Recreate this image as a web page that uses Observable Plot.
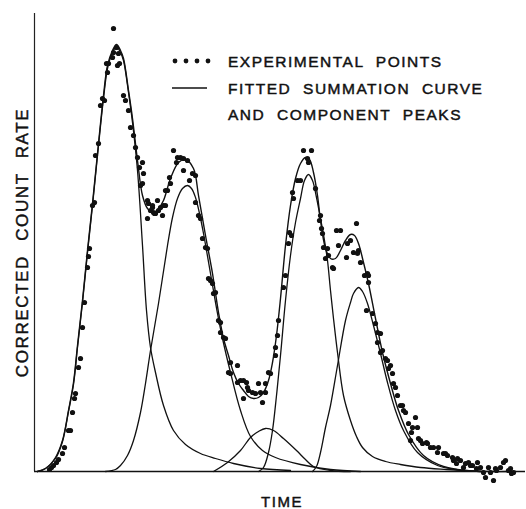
<!DOCTYPE html>
<html><head><meta charset="utf-8">
<script src="https://cdn.jsdelivr.net/npm/d3@7"></script>
<script src="https://cdn.jsdelivr.net/npm/@observablehq/plot@0.6"></script>
<style>
body{margin:0;background:#fff}
#wrap{position:relative;width:526px;height:509px}
#legend{position:absolute;left:0;top:0;pointer-events:none}
#legend text{font-family:"Liberation Sans",Arial,sans-serif;font-size:15.5px;letter-spacing:1.5px;word-spacing:6px;fill:#111;stroke:#111;stroke-width:0.45px}
</style>
</head><body><div id="wrap"></div>
<script>
// time (arbitrary units), corrected count rate (arbitrary units)
const experimental = [
[15,2],[17,4],[19,6],[22,9],[24,12],[28,18],[30,24],[34,41],[36,41],[38,59],[40,73],[41,78],[44,104],[46,113],[48,144],[50,169],[53,204],[54,215],[55,223],[58,266],[60,269],[61,316],[64,328],[66,366],[68,373],[70,371],[72,408],[73,399],[74,408],[78,414],[79,419],[79,443],[82,424],[83,406],[84,418],[85,408],[89,376],[91,371],[94,361],[96,344],[99,336],[101,324],[103,314],[105,304],[106,286],[109,298],[108,309],[108,288],[113,271],[114,268],[116,261],[118,264],[119,259],[121,258],[113,253],[118,266],[120,258],[123,271],[124,261],[126,264],[128,256],[129,266],[131,266],[133,281],[131,281],[135,294],[136,288],[139,321],[142,309],[143,314],[146,314],[149,313],[149,301],[153,311],[155,291],[158,298],[161,296],[161,269],[164,256],[166,253],[168,233],[171,224],[173,223],[174,193],[176,191],[178,188],[179,178],[181,179],[184,151],[186,149],[186,139],[189,134],[191,133],[196,109],[194,99],[203,106],[196,98],[203,89],[206,91],[209,91],[212,89],[213,84],[214,81],[218,79],[209,73],[221,78],[224,88],[226,79],[228,69],[231,79],[234,99],[236,98],[231,88],[241,116],[243,136],[241,124],[244,151],[249,184],[251,196],[254,228],[255,239],[257,236],[258,279],[259,273],[263,291],[266,291],[269,321],[273,313],[274,309],[277,321],[281,283],[285,251],[286,256],[287,243],[288,238],[289,224],[291,213],[293,223],[294,216],[298,204],[299,203],[302,241],[304,226],[306,241],[312,214],[313,228],[316,231],[319,219],[322,248],[323,218],[324,221],[326,209],[330,196],[333,198],[334,196],[332,161],[334,189],[338,158],[341,148],[343,139],[346,138],[343,129],[346,119],[348,121],[351,113],[353,111],[354,103],[356,106],[358,98],[359,88],[361,84],[363,76],[366,66],[368,66],[369,61],[371,59],[374,48],[376,31],[377,39],[378,44],[381,54],[383,44],[384,33],[386,31],[388,28],[392,29],[393,28],[396,24],[399,24],[403,19],[404,24],[409,18],[411,18],[413,16],[418,14],[419,11],[422,8],[423,13],[426,11],[429,4],[431,8],[434,9],[436,6],[438,6],[442,3],[443,9],[446,4],[449,-1],[451,-6],[454,4],[456,-1],[459,-9],[461,3],[462,1],[466,4],[469,9],[471,11],[474,1],[476,3],[477,-2],[479,-1]
];
const summation = [
[3,0],[11,3],[21,14],[28,31],[34,61],[39,89],[43,126],[48,171],[53,221],[58,268],[64,328],[69,376],[73,406],[78,421],[82,427],[86,421],[89,413],[94,381],[98,353],[103,311],[108,276],[113,263],[119,259],[124,263],[129,271],[136,293],[144,309],[151,312],[159,303],[164,276],[171,236],[178,198],[184,159],[189,133],[194,116],[199,99],[204,88],[209,81],[214,75],[219,73],[224,74],[229,79],[234,91],[238,109],[242,136],[246,173],[251,226],[256,266],[261,293],[266,308],[271,314],[275,312],[279,299],[283,276],[286,251],[291,223],[296,213],[301,213],[306,221],[311,231],[316,237],[320,236],[324,228],[329,209],[334,188],[341,153],[348,119],[356,88],[364,61],[374,37],[389,16],[409,5],[431,1],[456,0],[481,0]
];
const peak1 = [[3,0],[11,3],[21,13],[28,30],[34,60],[39,87],[43,124],[48,169],[53,219],[58,266],[64,326],[69,373],[73,403],[78,419],[82,425],[86,419],[89,411],[94,379],[98,349],[103,301],[108,226],[112,161],[116,124],[121,99],[129,66],[139,41],[151,27],[166,18],[181,13],[199,8],[226,3],[256,1]];
const peak2 = [[71,0],[81,2],[86,6],[93,16],[99,31],[106,59],[111,88],[116,121],[124,168],[133,226],[138,254],[143,273],[148,283],[153,286],[157,283],[161,274],[165,258],[169,238],[176,198],[183,158],[188,133],[196,99],[206,61],[216,35],[228,21],[241,14],[266,7],[296,2],[326,0]];
const peak3 = [[179,0],[193,9],[206,21],[216,34],[224,40],[231,43],[239,41],[249,33],[262,21],[271,12],[279,5],[296,1],[316,0]];
const peak4 = [[224,0],[229,4],[234,19],[238,41],[242,76],[246,116],[251,171],[256,216],[261,249],[266,273],[270,291],[274,297],[278,291],[282,274],[286,253],[290,231],[293,211],[296,181],[299,153],[303,119],[309,76],[316,51],[322,35],[328,24],[338,15],[351,10],[366,7],[386,4],[412,2],[446,0]];
const peak5 = [[278,0],[282,5],[286,19],[291,44],[296,66],[303,106],[311,151],[316,169],[319,178],[324,184],[328,180],[333,168],[339,146],[346,118],[353,89],[361,61],[369,41],[383,19],[403,6],[421,2],[446,0]];
const yLabel = "CORRECTED COUNT RATE";
const xLabel = "TIME";
const legendLabels = ["EXPERIMENTAL POINTS", "FITTED SUMMATION CURVE", "AND COMPONENT PEAKS"];

const components = [peak1, peak2, peak3, peak4, peak5];
const compRows = components.flatMap((pts, i) => pts.map(([t, c]) => ({t, c, k: "peak" + (i + 1)})));
const sumRows = summation.map(([t, c]) => ({t, c}));
const expRows = experimental.map(([t, c]) => ({t, c}));
const font = '"Liberation Sans", Arial, sans-serif';

const chart = Plot.plot({
  width: 526, height: 509,
  marginLeft: 34, marginRight: 1, marginTop: 13, marginBottom: 38,
  x: {domain: [0, 491], axis: null},
  y: {domain: [0, 458], axis: null},
  marks: [
    Plot.ruleX([0], {stroke: "#222", strokeWidth: 1.2}),
    Plot.ruleY([0], {stroke: "#111", strokeWidth: 1.6}),
    Plot.line(compRows, {x: "t", y: "c", z: "k", curve: "catmull-rom", stroke: "#111", strokeWidth: 1.3}),
    Plot.line(sumRows, {x: "t", y: "c", curve: "catmull-rom", stroke: "#111", strokeWidth: 1.4}),
    Plot.dot(expRows, {x: "t", y: "c", r: 2.6, fill: "#111", stroke: "none"}),
    Plot.text([yLabel], {frameAnchor: "left", rotate: -90, dx: -12, text: d => d, fontSize: 17, fontFamily: font, fill: "#111", stroke: "#111", strokeWidth: 0.45, textAnchor: "middle", lineAnchor: "middle"}),
    Plot.text([xLabel], {frameAnchor: "bottom", dx: 2, dy: 31, text: d => d, fontSize: 15, fontFamily: font, fill: "#111", stroke: "#111", strokeWidth: 0.45, lineAnchor: "middle"})
  ]
});
chart.querySelectorAll("text").forEach(t => { t.style.letterSpacing = "1.6px"; t.style.wordSpacing = "8px"; });
const wrap = document.getElementById("wrap");
wrap.appendChild(chart);

// legend overlay
const ns = "http://www.w3.org/2000/svg";
const lg = document.createElementNS(ns, "svg");
lg.setAttribute("id", "legend");
lg.setAttribute("width", 526);
lg.setAttribute("height", 130);
[175, 186, 197, 208].forEach(cx => {
  const c = document.createElementNS(ns, "circle");
  c.setAttribute("cx", cx); c.setAttribute("cy", 61); c.setAttribute("r", 2.4); c.setAttribute("fill", "#111");
  lg.appendChild(c);
});
const ln = document.createElementNS(ns, "line");
ln.setAttribute("x1", 172); ln.setAttribute("x2", 207); ln.setAttribute("y1", 88); ln.setAttribute("y2", 88);
ln.setAttribute("stroke", "#111"); ln.setAttribute("stroke-width", 1.4);
lg.appendChild(ln);
legendLabels.forEach((s, i) => {
  const t = document.createElementNS(ns, "text");
  t.setAttribute("x", 228); t.setAttribute("y", [67, 94, 120][i]);
  t.textContent = s;
  lg.appendChild(t);
});
wrap.appendChild(lg);
</script>
</body></html>
